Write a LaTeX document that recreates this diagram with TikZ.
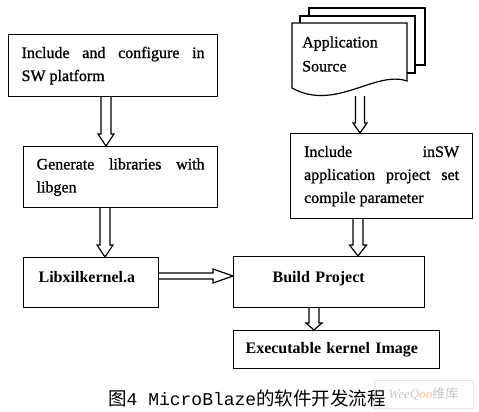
\documentclass[tikz,border=0pt]{standalone}
\usepackage{fontspec}
\setmainfont{Liberation Serif}
\newfontfamily\heavyserif{Liberation Serif}[FakeBold=1]
\newfontfamily\cjkfont{Noto Sans CJK SC}
\newfontfamily\capmono{Liberation Mono}
\usetikzlibrary{calc}
\newcommand{\vhollow}[5]{\draw[hollow] ($(#1)+(-#3,0)$) -- ($(#2)+(-#3,-#5)$) -- ($(#2)+(-#4,-#5)$) -- (#2) -- ($(#2)+(#4,-#5)$) -- ($(#2)+(#3,-#5)$) -- ($(#1)+(#3,0)$);}
\newcommand{\hhollow}[5]{\draw[hollow] ($(#1)+(0,-#3)$) -- ($(#2)+(-#5,-#3)$) -- ($(#2)+(-#5,-#4)$) -- (#2) -- ($(#2)+(-#5,#4)$) -- ($(#2)+(-#5,#3)$) -- ($(#1)+(0,#3)$);}
\begin{document}
\begin{tikzpicture}[x=1pt,y=-1pt,
  box/.style={draw, line width=1.2pt, anchor=north west, inner sep=0pt,
    font=\fontsize{16}{23}\selectfont\heavyserif},
  jbox/.style={box, align=justify},
  lbox/.style={box, align=left, font=\fontsize{16}{23}\selectfont\bfseries},
  page/.style={draw, fill=white, line width=1.2pt, line join=miter},
  hollow/.style={draw, line width=1.2pt, line join=miter}]
\useasboundingbox (0,0) rectangle (479,412);
% document stack
\draw[page] (309,8) rectangle (425,65);
\draw[page] (300,16) rectangle (415,73);
\draw[page] (292,23) -- (407,23) -- (407,81) .. controls (375,70) and (335,112) .. (292,88) -- cycle;
\node[anchor=west, align=left, inner sep=0pt, font=\fontsize{16}{24}\selectfont\heavyserif] (app) at (302,54) {Application\\Source};
% boxes
\node[jbox, minimum width=209pt, minimum height=62pt, text width=183pt] (b1) at (8,34)
  {\hyphenpenalty=10000 Include and configure in\linebreak SW platform};
\node[jbox, minimum width=194pt, minimum height=61pt, text width=168pt] (b2) at (23,146)
  {\hyphenpenalty=10000 Generate libraries with\linebreak libgen};
\node[jbox, minimum width=182pt, minimum height=85pt, text width=155pt] (rb) at (290,133)
  {\hyphenpenalty=10000 Include inSW\linebreak application project set\linebreak compile parameter};
\node[lbox, minimum width=135pt, minimum height=50pt, text width=105pt, text height=11pt, text depth=11pt] (lib) at (23,257) {Libxilkernel.a};
\node[lbox, minimum width=191pt, minimum height=51pt, text width=113pt, text height=11pt, text depth=11pt] (build) at (233,256) {Build Project};
\node[lbox, minimum width=206pt, minimum height=38pt, text width=182pt] (exe) at (233,330) {Executable kernel Image};
% helper coordinates
\coordinate (ax1) at (106,0);
\coordinate (ax2) at (105,0);
\coordinate (ax3) at (360,0);
\coordinate (ax4) at (358,0);
\coordinate (ax5) at (314,0);
\coordinate (ay) at (0,276);
\coordinate (docb) at (360,96);
% arrows
\vhollow{ax1 |- b1.south}{ax1 |- b2.north}{5}{8}{12}
\vhollow{ax2 |- b2.south}{ax2 |- lib.north}{5}{8}{12}
\vhollow{docb}{ax3 |- rb.north}{4.5}{7}{10}
\vhollow{ax4 |- rb.south}{ax4 |- build.north}{5}{8.5}{11}
\vhollow{ax5 |- build.south}{ax5 |- exe.north}{5}{8}{7}
\hhollow{lib.east |- ay}{build.west |- ay}{3}{7}{20}
% watermark (behind the caption)
\node[draw=gray!20, fill=white, text=gray!45, minimum width=99pt, minimum height=28pt, inner sep=0pt] (wm) at (423.5,394)
  {\fontsize{13}{14}\selectfont\itshape WeeQ\textcolor{orange!50}{oo}\upshape\cjkfont 维库};
% caption
\node[inner sep=0pt] (cap) at (247,398)
  {\fontsize{18.5}{20}\selectfont\cjkfont 图\capmono\fontsize{18}{20}\selectfont 4 MicroBlaze\cjkfont\fontsize{18.5}{20}\selectfont 的软件开发流程};
\end{tikzpicture}
\end{document}
